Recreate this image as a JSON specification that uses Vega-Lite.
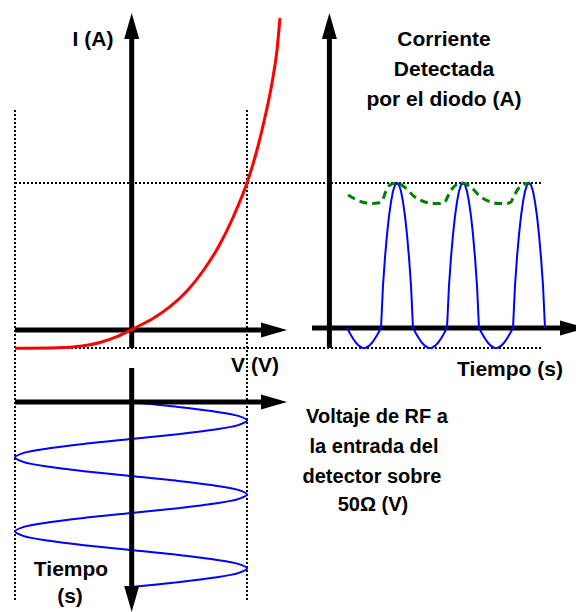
{
  "$schema": "https://vega.github.io/schema/vega-lite/v6.json",
  "width": 576,
  "height": 612,
  "padding": 0,
  "autosize": {"type": "none"},
  "background": "white",
  "config": {"view": {"stroke": null}},
  "datasets": {
    "dots": [
      {"x": 15, "y": 110, "x2": 15, "y2": 600},
      {"x": 247, "y": 110, "x2": 247, "y2": 600},
      {"x": 15, "y": 183, "x2": 543, "y2": 183},
      {"x": 15, "y": 348, "x2": 543, "y2": 348}
    ],
    "axes": [
      {"x": 131.7, "y": 348, "x2": 131.7, "y2": 30},
      {"x": 15, "y": 330, "x2": 268, "y2": 330},
      {"x": 329.4, "y": 348, "x2": 329.4, "y2": 30},
      {"x": 312, "y": 328, "x2": 566, "y2": 328},
      {"x": 15, "y": 402, "x2": 268, "y2": 402},
      {"x": 131.7, "y": 368, "x2": 131.7, "y2": 594}
    ],
    "heads": [
      {"x": 131.7, "y": 26, "dir": "up"},
      {"x": 329.4, "y": 26, "dir": "up"},
      {"x": 274, "y": 330, "dir": "right"},
      {"x": 573, "y": 328, "dir": "right"},
      {"x": 274, "y": 402, "dir": "right"},
      {"x": 131.7, "y": 599, "dir": "down"}
    ],
    "iv": [
      {"x": 15, "y": 348.3}, {"x": 50, "y": 348}, {"x": 75, "y": 346.8}, {"x": 100, "y": 342.5},
      {"x": 117, "y": 336.7}, {"x": 133, "y": 328.8}, {"x": 153, "y": 318.5}, {"x": 170, "y": 306.7},
      {"x": 187, "y": 291}, {"x": 203, "y": 271}, {"x": 220, "y": 244}, {"x": 233, "y": 217.5},
      {"x": 248, "y": 180}, {"x": 257, "y": 150}, {"x": 265, "y": 117}, {"x": 272, "y": 83},
      {"x": 277, "y": 50}, {"x": 280, "y": 18}
    ],
    "det": [
      {"x": 347, "y": 328}, {"x": 350, "y": 333.5}, {"x": 353, "y": 338.5}, {"x": 356, "y": 342.8},
      {"x": 359, "y": 345.9}, {"x": 362, "y": 347.7}, {"x": 364, "y": 348}, {"x": 366, "y": 347.7},
      {"x": 369, "y": 345.9}, {"x": 372, "y": 342.8}, {"x": 375, "y": 338.5}, {"x": 378, "y": 333.5},
      {"x": 381, "y": 328}, {"x": 383, "y": 285.5}, {"x": 385, "y": 257.4}, {"x": 387, "y": 234.6},
      {"x": 389, "y": 216.2}, {"x": 391, "y": 201.8}, {"x": 393, "y": 191.3}, {"x": 395, "y": 185},
      {"x": 397, "y": 183}, {"x": 399, "y": 185}, {"x": 401, "y": 191.3}, {"x": 403, "y": 201.8},
      {"x": 405, "y": 216.2}, {"x": 407, "y": 234.6}, {"x": 409, "y": 257.4}, {"x": 411, "y": 285.5},
      {"x": 413, "y": 328}, {"x": 416, "y": 333.5}, {"x": 419, "y": 338.5}, {"x": 422, "y": 342.8},
      {"x": 425, "y": 345.9}, {"x": 428, "y": 347.7}, {"x": 430, "y": 348}, {"x": 432, "y": 347.7},
      {"x": 435, "y": 345.9}, {"x": 438, "y": 342.8}, {"x": 441, "y": 338.5}, {"x": 444, "y": 333.5},
      {"x": 447, "y": 328}, {"x": 449, "y": 285.5}, {"x": 451, "y": 257.4}, {"x": 453, "y": 234.6},
      {"x": 455, "y": 216.2}, {"x": 457, "y": 201.8}, {"x": 459, "y": 191.3}, {"x": 461, "y": 185},
      {"x": 463, "y": 183}, {"x": 465, "y": 185}, {"x": 467, "y": 191.3}, {"x": 469, "y": 201.8},
      {"x": 471, "y": 216.2}, {"x": 473, "y": 234.6}, {"x": 475, "y": 257.4}, {"x": 477, "y": 285.5},
      {"x": 479, "y": 328}, {"x": 482, "y": 333.5}, {"x": 485, "y": 338.5}, {"x": 488, "y": 342.8},
      {"x": 491, "y": 345.9}, {"x": 494, "y": 347.7}, {"x": 496, "y": 348}, {"x": 498, "y": 347.7},
      {"x": 501, "y": 345.9}, {"x": 504, "y": 342.8}, {"x": 507, "y": 338.5}, {"x": 510, "y": 333.5},
      {"x": 513, "y": 328}, {"x": 515, "y": 285.5}, {"x": 517, "y": 257.4}, {"x": 519, "y": 234.6},
      {"x": 521, "y": 216.2}, {"x": 523, "y": 201.8}, {"x": 525, "y": 191.3}, {"x": 527, "y": 185},
      {"x": 529, "y": 183}, {"x": 531, "y": 185}, {"x": 533, "y": 191.3}, {"x": 535, "y": 201.8},
      {"x": 537, "y": 216.2}, {"x": 539, "y": 234.6}, {"x": 541, "y": 257.4}, {"x": 543, "y": 285.5},
      {"x": 545, "y": 328}
    ],
    "env": [
      {"x": 348, "y": 195}, {"x": 355, "y": 199}, {"x": 362, "y": 202}, {"x": 370, "y": 203.5},
      {"x": 378, "y": 203}, {"x": 382, "y": 201}, {"x": 386, "y": 191}, {"x": 390, "y": 185},
      {"x": 397, "y": 183}, {"x": 403, "y": 186}, {"x": 408, "y": 190}, {"x": 413, "y": 195.5},
      {"x": 418, "y": 199}, {"x": 425, "y": 202}, {"x": 432, "y": 203.5}, {"x": 440, "y": 203.5},
      {"x": 445, "y": 202}, {"x": 447, "y": 198}, {"x": 452, "y": 189}, {"x": 456, "y": 185},
      {"x": 463, "y": 183}, {"x": 469, "y": 186}, {"x": 474, "y": 190}, {"x": 479, "y": 195.5},
      {"x": 484, "y": 199}, {"x": 491, "y": 202}, {"x": 498, "y": 203.5}, {"x": 506, "y": 203.5},
      {"x": 511, "y": 202}, {"x": 513, "y": 198}, {"x": 518, "y": 189}, {"x": 522, "y": 185},
      {"x": 529, "y": 183}
    ],
    "rf": [
      {"t": 0, "y": 402.0, "x": 131}, {"t": 1, "y": 406.6, "x": 175.4}, {"t": 2, "y": 411.3, "x": 213.0},
      {"t": 3, "y": 415.9, "x": 238.2}, {"t": 4, "y": 420.5, "x": 247}, {"t": 5, "y": 425.1, "x": 238.2},
      {"t": 6, "y": 429.8, "x": 213.0}, {"t": 7, "y": 434.4, "x": 175.4}, {"t": 8, "y": 439.0, "x": 131},
      {"t": 9, "y": 443.6, "x": 86.6}, {"t": 10, "y": 448.3, "x": 49.0}, {"t": 11, "y": 452.9, "x": 23.8},
      {"t": 12, "y": 457.5, "x": 15}, {"t": 13, "y": 462.1, "x": 23.8}, {"t": 14, "y": 466.8, "x": 49.0},
      {"t": 15, "y": 471.4, "x": 86.6}, {"t": 16, "y": 476.0, "x": 131}, {"t": 17, "y": 480.6, "x": 175.4},
      {"t": 18, "y": 485.3, "x": 213.0}, {"t": 19, "y": 489.9, "x": 238.2}, {"t": 20, "y": 494.5, "x": 247},
      {"t": 21, "y": 499.1, "x": 238.2}, {"t": 22, "y": 503.8, "x": 213.0}, {"t": 23, "y": 508.4, "x": 175.4},
      {"t": 24, "y": 513.0, "x": 131}, {"t": 25, "y": 517.6, "x": 86.6}, {"t": 26, "y": 522.3, "x": 49.0},
      {"t": 27, "y": 526.9, "x": 23.8}, {"t": 28, "y": 531.5, "x": 15}, {"t": 29, "y": 536.1, "x": 23.8},
      {"t": 30, "y": 540.8, "x": 49.0}, {"t": 31, "y": 545.4, "x": 86.6}, {"t": 32, "y": 550.0, "x": 131},
      {"t": 33, "y": 554.6, "x": 175.4}, {"t": 34, "y": 559.3, "x": 213.0}, {"t": 35, "y": 563.9, "x": 238.2},
      {"t": 36, "y": 568.5, "x": 247}, {"t": 37, "y": 573.1, "x": 238.2}, {"t": 38, "y": 577.8, "x": 213.0},
      {"t": 39, "y": 582.4, "x": 175.4}, {"t": 40, "y": 587.0, "x": 131}
    ],
    "labels": [
      {"x": 93, "y": 40, "text": "I (A)"},
      {"x": 444, "y": 40, "text": "Corriente"},
      {"x": 444, "y": 70, "text": "Detectada"},
      {"x": 444, "y": 100, "text": "por el diodo (A)"},
      {"x": 255, "y": 366, "text": "V (V)"},
      {"x": 510, "y": 370, "text": "Tiempo (s)"},
      {"x": 71, "y": 570, "text": "Tiempo"},
      {"x": 70, "y": 597, "text": "(s)"}
    ],
    "rflabel": [
      {"x": 377, "y": 417, "text": "Voltaje de RF a"},
      {"x": 374, "y": 447, "text": "la entrada del"},
      {"x": 372, "y": 477, "text": "detector sobre"},
      {"x": 373, "y": 505, "text": "50Ω (V)"}
    ]
  },
  "encoding": {
    "x": {"field": "x", "type": "quantitative", "scale": {"domain": [0, 576], "nice": false, "zero": false}, "axis": null},
    "y": {"field": "y", "type": "quantitative", "scale": {"domain": [0, 612], "nice": false, "zero": false, "reverse": true}, "axis": null}
  },
  "layer": [
    {
      "data": {"name": "dots"},
      "mark": {"type": "rule", "color": "black", "strokeWidth": 2, "strokeDash": [2, 2]},
      "encoding": {"x2": {"field": "x2"}, "y2": {"field": "y2"}}
    },
    {
      "data": {"name": "rf"},
      "mark": {"type": "line", "color": "#0000ff", "strokeWidth": 2, "interpolate": "catmull-rom"},
      "encoding": {"order": {"field": "t", "type": "quantitative"}}
    },
    {
      "data": {"name": "axes"},
      "mark": {"type": "rule", "color": "black", "strokeWidth": 5},
      "encoding": {"x2": {"field": "x2"}, "y2": {"field": "y2"}}
    },
    {
      "data": {"name": "heads"},
      "mark": {"type": "point", "filled": true, "size": 676, "color": "black", "opacity": 1, "strokeWidth": 0},
      "encoding": {
        "shape": {
          "field": "dir", "type": "nominal", "legend": null,
          "scale": {"domain": ["up", "down", "right"], "range": ["M0,-1L0.577,1L-0.577,1Z", "M0,1L0.577,-1L-0.577,-1Z", "M1,0L-1,-0.577L-1,0.577Z"]}
        }
      }
    },
    {
      "data": {"name": "iv"},
      "mark": {"type": "line", "color": "#ff0000", "strokeWidth": 3, "interpolate": "monotone"},
      "encoding": {}
    },
    {
      "data": {"name": "det"},
      "mark": {"type": "line", "color": "#0000ff", "strokeWidth": 2},
      "encoding": {}
    },
    {
      "data": {"name": "env"},
      "mark": {"type": "line", "color": "#008000", "strokeWidth": 3, "strokeDash": [8, 5], "interpolate": "monotone"},
      "encoding": {}
    },
    {
      "data": {"name": "labels"},
      "mark": {"type": "text", "font": "Liberation Sans", "fontWeight": "bold", "fontSize": 21, "align": "center", "baseline": "middle", "color": "black"},
      "encoding": {"text": {"field": "text", "type": "nominal"}}
    },
    {
      "data": {"name": "rflabel"},
      "mark": {"type": "text", "font": "Liberation Sans", "fontWeight": "bold", "fontSize": 20, "align": "center", "baseline": "middle", "color": "black"},
      "encoding": {"text": {"field": "text", "type": "nominal"}}
    }
  ]
}
